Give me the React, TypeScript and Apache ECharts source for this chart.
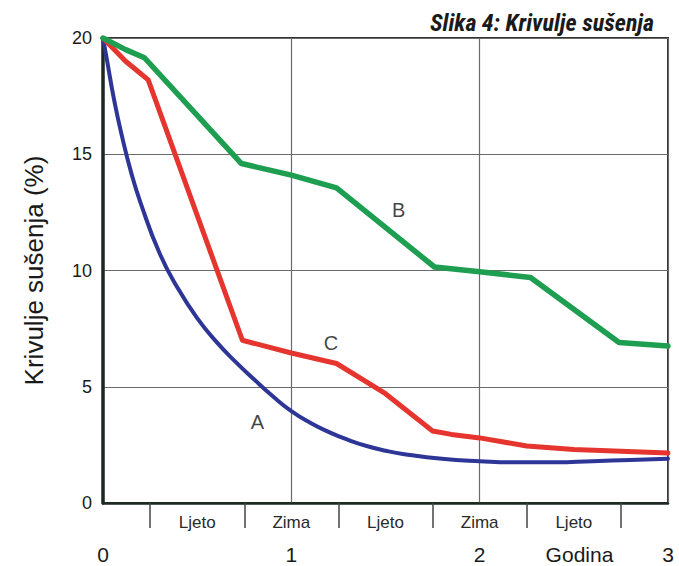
import React, { useEffect, useRef } from "react";
import * as echarts from "echarts";

const titleText = "Slika 4: Krivulje sušenja";
const yAxisName = "Krivulje sušenja (%)";

// years, percentage
const curveA: [number, number][] = [
  [0, 20], [0.02, 19.1], [0.06, 17.3], [0.1, 15.8], [0.15, 14.2], [0.2, 12.9],
  [0.3, 10.75], [0.4, 9.2], [0.5, 7.95], [0.6, 6.95], [0.7, 6.1], [0.8, 5.33],
  [0.9, 4.6], [1.0, 3.95], [1.1, 3.45], [1.2, 3.05], [1.3, 2.72], [1.4, 2.45],
  [1.5, 2.25], [1.6, 2.1], [1.8, 1.9], [2.0, 1.8], [2.2, 1.75], [2.4, 1.75],
  [2.6, 1.8], [2.8, 1.85], [3.0, 1.9],
];
const curveB: [number, number][] = [
  [0, 20], [0.12, 19.5], [0.22, 19.15], [0.735, 14.6], [1.0, 14.1], [1.24, 13.55],
  [1.76, 10.15], [2.0, 9.95], [2.27, 9.7], [2.74, 6.9], [3.0, 6.75],
];
const curveC: [number, number][] = [
  [0, 20], [0.12, 19.0], [0.18, 18.6], [0.24, 18.2], [0.74, 7.0], [1.0, 6.45],
  [1.24, 6.0], [1.5, 4.7], [1.75, 3.1], [1.85, 2.95], [2.0, 2.8], [2.25, 2.45],
  [2.5, 2.3], [3.0, 2.15],
];
const curveLabels: { name: string; value: [number, number] }[] = [
  { name: "A", value: [0.82, 3.5] },
  { name: "B", value: [1.57, 12.6] },
  { name: "C", value: [1.21, 6.9] },
];
const seasonTicks = [0.25, 0.75, 1.25, 1.75, 2.25, 2.75];
const seasonLabelPos = [0.5, 1.0, 1.5, 2.0, 2.5];
const seasonLabels = ["Ljeto", "Zima", "Ljeto", "Zima", "Ljeto"];
const yearLabelPos = [0, 1, 2, 2.53, 3];
const yearLabels = ["0", "1", "2", "Godina", "3"];
const yTicks = [0, 5, 10, 15, 20];

export default function App() {
  const ref = useRef<HTMLDivElement>(null);
  useEffect(() => {
    if (!ref.current) return;
    const chart = echarts.init(ref.current, null, { renderer: "svg" });
    const font = "Liberation Sans, Arial, sans-serif";
    chart.setOption({
      animation: false,
      backgroundColor: "#ffffff",
      title: {
        text: titleText,
        right: 20,
        top: 6,
        textStyle: {
          fontFamily: "Liberation Sans Narrow, Arial Narrow, Roboto Condensed, sans-serif",
          fontStyle: "italic",
          fontWeight: "bold",
          fontSize: 24,
          color: "#1a1a1a",
        },
      },
      grid: {
        left: 103,
        right: 11,
        top: 38,
        bottom: 63,
        show: true,
        borderColor: "#333",
        borderWidth: 2,
      },
      xAxis: [
        {
          type: "value",
          min: 0,
          max: 3,
          interval: 1,
          axisLine: { show: true, onZero: false, lineStyle: { color: "#1d2a22", width: 2.5 } },
          axisTick: { show: false },
          axisLabel: { show: false },
          splitLine: { show: true, lineStyle: { color: "#6a6a6a", width: 1.2 } },
        },
        {
          type: "value",
          min: 0,
          max: 3,
          position: "bottom",
          axisLine: { show: false },
          axisTick: {
            show: true,
            customValues: seasonTicks,
            length: 25,
            inside: false,
            lineStyle: { color: "#444", width: 1.5 },
          },
          axisLabel: {
            show: true,
            customValues: seasonLabelPos,
            margin: 11,
            fontFamily: font,
            fontSize: 17,
            color: "#2a2a2a",
            formatter: (v: number) => {
              const i = seasonLabelPos.findIndex((p) => Math.abs(p - v) < 1e-6);
              return i >= 0 ? seasonLabels[i] : "";
            },
          },
          splitLine: { show: false },
        },
        {
          type: "value",
          min: 0,
          max: 3,
          position: "bottom",
          axisLine: { show: false },
          axisTick: { show: false },
          axisLabel: {
            show: true,
            customValues: yearLabelPos,
            margin: 41,
            fontFamily: font,
            fontSize: 21,
            color: "#1a1a1a",
            formatter: (v: number) => {
              const i = yearLabelPos.findIndex((p) => Math.abs(p - v) < 1e-6);
              return i >= 0 ? yearLabels[i] : "";
            },
          },
          splitLine: { show: false },
        },
      ],
      yAxis: {
        type: "value",
        min: 0,
        max: 20,
        interval: 5,
        name: yAxisName,
        nameLocation: "middle",
        nameGap: 56,
        nameTextStyle: { fontFamily: font, fontSize: 26, color: "#1a1a1a" },
        axisLine: { show: true, lineStyle: { color: "#1d2a22", width: 3.5 } },
        axisTick: { show: false },
        axisLabel: {
          margin: 11,
          fontFamily: font,
          fontSize: 18,
          color: "#1a1a1a",
          customValues: yTicks,
        },
        splitLine: { show: true, lineStyle: { color: "#6a6a6a", width: 1.2 } },
      },
      series: [
        {
          name: "A",
          type: "line",
          data: curveA,
          smooth: 0.5,
          symbol: "none",
          lineStyle: { color: "#2d3596", width: 4, cap: "round", join: "round" },
          z: 3,
        },
        {
          name: "C",
          type: "line",
          data: curveC,
          smooth: false,
          symbol: "none",
          lineStyle: { color: "#e5352e", width: 5, cap: "round", join: "round" },
          z: 4,
        },
        {
          name: "B",
          type: "line",
          data: curveB,
          smooth: false,
          symbol: "none",
          lineStyle: { color: "#1e9e50", width: 5.5, cap: "round", join: "round" },
          z: 5,
        },
        {
          type: "scatter",
          data: curveLabels,
          symbolSize: 1,
          itemStyle: { color: "rgba(0,0,0,0)" },
          label: {
            show: true,
            position: "inside",
            formatter: (p: any) => p.name,
            fontFamily: font,
            fontSize: 20,
            color: "#111",
          },
          z: 6,
        },
      ],
    });
    return () => chart.dispose();
  }, []);
  return (
    <div
      ref={ref}
      style={{ position: "fixed", left: 0, top: 0, width: 679, height: 566 }}
    />
  );
}
